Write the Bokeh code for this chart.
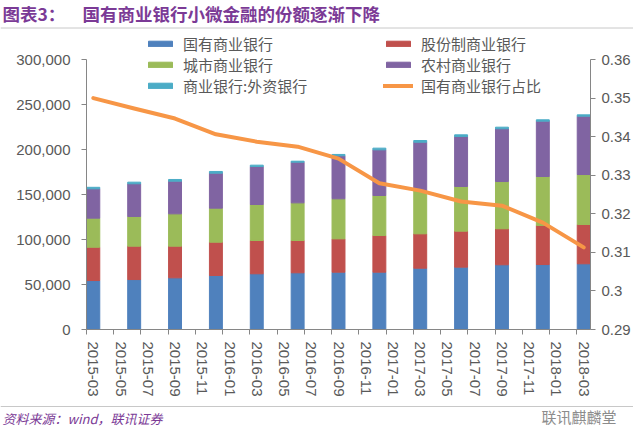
from bokeh.plotting import figure
from bokeh.layouts import column
from bokeh.models import (Range1d, LinearAxis, FixedTicker, NumeralTickFormatter,
                          Legend, LegendItem, Label, Span, ColumnDataSource)
from bokeh.embed import file_html
from bokeh.resources import INLINE

# ---- data ----
axis_labels = ["2015-03", "2015-05", "2015-07", "2015-09", "2015-11", "2016-01",
               "2016-03", "2016-05", "2016-07", "2016-09", "2016-11", "2017-01",
               "2017-03", "2017-05", "2017-07", "2017-09", "2017-11", "2018-01",
               "2018-03"]
quarters = ["2015-03", "2015-06", "2015-09", "2015-12", "2016-03", "2016-06",
            "2016-09", "2016-12", "2017-03", "2017-06", "2017-09", "2017-12",
            "2018-03"]
state_banks = [54400, 55500, 57400, 60000, 61900, 63000, 63700, 63700, 68100,
               69300, 71900, 72200, 73000]
joint_banks = [37000, 37100, 35200, 37000, 37000, 35900, 37000, 40700, 38200,
               40000, 40000, 43400, 43700]
city_banks = [32300, 33000, 35900, 37800, 40000, 41800, 44500, 44500, 48100,
              49600, 52500, 54400, 55500]
rural_banks = [32600, 36300, 36300, 38900, 42200, 45200, 47800, 50700, 53700,
               55500, 58600, 61500, 64800]
foreign_banks = [1700, 1800, 1900, 1900, 1500, 1100, 1500, 1900, 1900, 1900,
                 1800, 1500, 1500]
state_share = [0.3500, 0.3473, 0.3447, 0.3406, 0.3387, 0.3374, 0.3343, 0.3279,
               0.3260, 0.3232, 0.3221, 0.3177, 0.3113]
left_ticks = [0, 50000, 100000, 150000, 200000, 250000, 300000]
right_ticks = [0.29, 0.30, 0.31, 0.32, 0.33, 0.34, 0.35, 0.36]

series_names = ["国有商业银行", "股份制商业银行", "城市商业银行", "农村商业银行",
                "商业银行:外资银行"]
line_name = "国有商业银行占比"
title_a = "图表3："
title_b = "国有商业银行小微金融的份额逐渐下降"
source_text = "资料来源：wind，联讯证券"
mark_text = "联讯麒麟堂"

colors = ["#4F81BD", "#C0504D", "#9BBB59", "#8064A2", "#4BACC6"]
line_color = "#F79646"
title_col = "#7B3A96"
axis_col = "#868686"
lab_col = "#595959"
sep_col = "#C8C8C8"
num_font = "Liberation Sans"
cjk_font = "Noto Sans CJK SC"


def month_index(s):
    y, m = s.split("-")
    return (int(y) - 2015) * 12 + int(m) - 3


xq = [month_index(q) for q in quarters]
xl = [month_index(q) for q in axis_labels]

source = ColumnDataSource(dict(x=xq, s0=state_banks, s1=joint_banks, s2=city_banks,
                               s3=rural_banks, s4=foreign_banks, r=state_share))

W = 633


def strip(h):
    f = figure(width=W, height=h, frame_width=W, frame_height=h, frame_align=False,
               output_backend="svg", toolbar_location=None,
               x_range=Range1d(0, W), y_range=Range1d(h, 0), x_axis_type=None,
               y_axis_type=None, min_border=0, outline_line_color=None,
               background_fill_color="white", border_fill_color="white")
    f.grid.visible = False
    return f


# ---------------- header strip ----------------
H1 = 30
head = strip(H1)
head.add_layout(Label(x=2, y=13, text=title_a, text_font=cjk_font,
                      text_font_size="17.5px", text_font_style="bold",
                      text_color=title_col, text_baseline="middle"))
head.add_layout(Label(x=82, y=13, text=title_b, text_font=cjk_font,
                      text_font_size="17.5px", text_font_style="bold",
                      text_color=title_col, text_baseline="middle"))
head.add_layout(Span(location=27.5, dimension="width", line_color=sep_col,
                     line_width=1))

# ---------------- main chart ----------------
TOP = H1                      # page y of main figure top
FRAME_TOP = 31                # page y of frame top (legend lives inside)
AXIS_Y0, AXIS_Y300 = 329, 59  # page y of 0 and 300,000
H2 = 400 - TOP
BL, BR = 86, W - 592
BT = FRAME_TOP - TOP
BB = TOP + H2 - AXIS_Y0
FH = AXIS_Y0 - FRAME_TOP
per_px = 300000 / (AXIS_Y0 - AXIS_Y300)
y_top = FH * per_px
r_per_px = (0.36 - 0.29) / (AXIS_Y0 - AXIS_Y300)
r_top = 0.29 + FH * r_per_px

p = figure(width=W, height=H2, output_backend="svg", toolbar_location=None,
           x_range=Range1d(-0.5, 36.5), y_range=Range1d(0, y_top),
           min_border_left=BL, min_border_right=BR, min_border_top=BT,
           min_border_bottom=BB, outline_line_color=None, frame_align=False,
           background_fill_color="white", border_fill_color="white")
p.xgrid.visible = False
p.ygrid.visible = False

rs = p.vbar_stack(["s0", "s1", "s2", "s3", "s4"], x="x", width=0.95, color=colors,
                  source=source)

p.extra_y_ranges = {"ratio": Range1d(0.29, r_top)}
lr = p.line(x="x", y="r", source=source, y_range_name="ratio", line_color=line_color,
            line_width=4, line_join="round", line_cap="round")

ya = p.yaxis[0]
ya.ticker = FixedTicker(ticks=left_ticks)
ya.bounds = (left_ticks[0], left_ticks[-1])
ya.formatter = NumeralTickFormatter(format="0,0")
ya.axis_line_color = axis_col
ya.major_tick_line_color = axis_col
ya.major_tick_out = 5
ya.major_tick_in = 0
ya.minor_tick_line_color = None
ya.major_label_standoff = 11
ya.major_label_text_font = num_font
ya.major_label_text_font_size = "15px"
ya.major_label_text_color = lab_col

ra = LinearAxis(y_range_name="ratio", ticker=FixedTicker(ticks=right_ticks))
ra.bounds = (right_ticks[0], right_ticks[-1])
ra.major_label_overrides = {t: ("%g" % t) for t in right_ticks}
ra.axis_line_color = axis_col
ra.major_tick_line_color = axis_col
ra.major_tick_out = 5
ra.major_tick_in = 0
ra.minor_tick_line_color = None
ra.major_label_standoff = 6
ra.major_label_text_font = num_font
ra.major_label_text_font_size = "15px"
ra.major_label_text_color = lab_col
p.add_layout(ra, "right")

xa = p.xaxis[0]
xa.ticker = FixedTicker(ticks=xl, minor_ticks=[v - 0.5 for v in xl])
xa.major_label_overrides = {v: s for v, s in zip(xl, axis_labels)}
xa.major_label_orientation = "vertical"
xa.axis_line_color = axis_col
xa.major_tick_line_color = None
xa.minor_tick_line_color = axis_col
xa.minor_tick_out = 5
xa.minor_tick_in = 0
xa.major_label_standoff = 6
xa.major_label_text_font = num_font
xa.major_label_text_font_size = "15px"
xa.major_label_text_color = lab_col

leg_kw = dict(glyph_width=30, glyph_height=7, label_standoff=8,
              label_text_font=cjk_font, label_text_font_size="15px",
              label_text_color=lab_col, label_height=18, spacing=0, padding=0,
              margin=0, border_line_color=None, background_fill_alpha=0)
leg_y = AXIS_Y0 - 96
leg1 = Legend(items=[LegendItem(label=series_names[0], renderers=[rs[0]]),
                     LegendItem(label=series_names[2], renderers=[rs[2]]),
                     LegendItem(label=series_names[4], renderers=[rs[4]])],
              location=(145 - BL, leg_y), **leg_kw)
leg2 = Legend(items=[LegendItem(label=series_names[1], renderers=[rs[1]]),
                     LegendItem(label=series_names[3], renderers=[rs[3]]),
                     LegendItem(label=line_name, renderers=[lr])],
              location=(383 - BL, leg_y), **leg_kw)
p.add_layout(leg1)
p.add_layout(leg2)

# ---------------- footer strip ----------------
H3 = 37
foot = strip(H3)
foot.add_layout(Span(location=6, dimension="width", line_color=sep_col, line_width=1))
foot.add_layout(Label(x=2, y=18, text=source_text, text_font=cjk_font,
                      text_font_size="13px", text_font_style="italic",
                      text_color=title_col, text_baseline="middle"))
foot.add_layout(Label(x=541, y=16, text=mark_text, text_font=cjk_font,
                      text_font_size="15px", text_color="#8C8C8C",
                      text_baseline="middle"))

layout = column(head, p, foot, spacing=0)
open("out.html", "w").write(file_html(layout, INLINE))
